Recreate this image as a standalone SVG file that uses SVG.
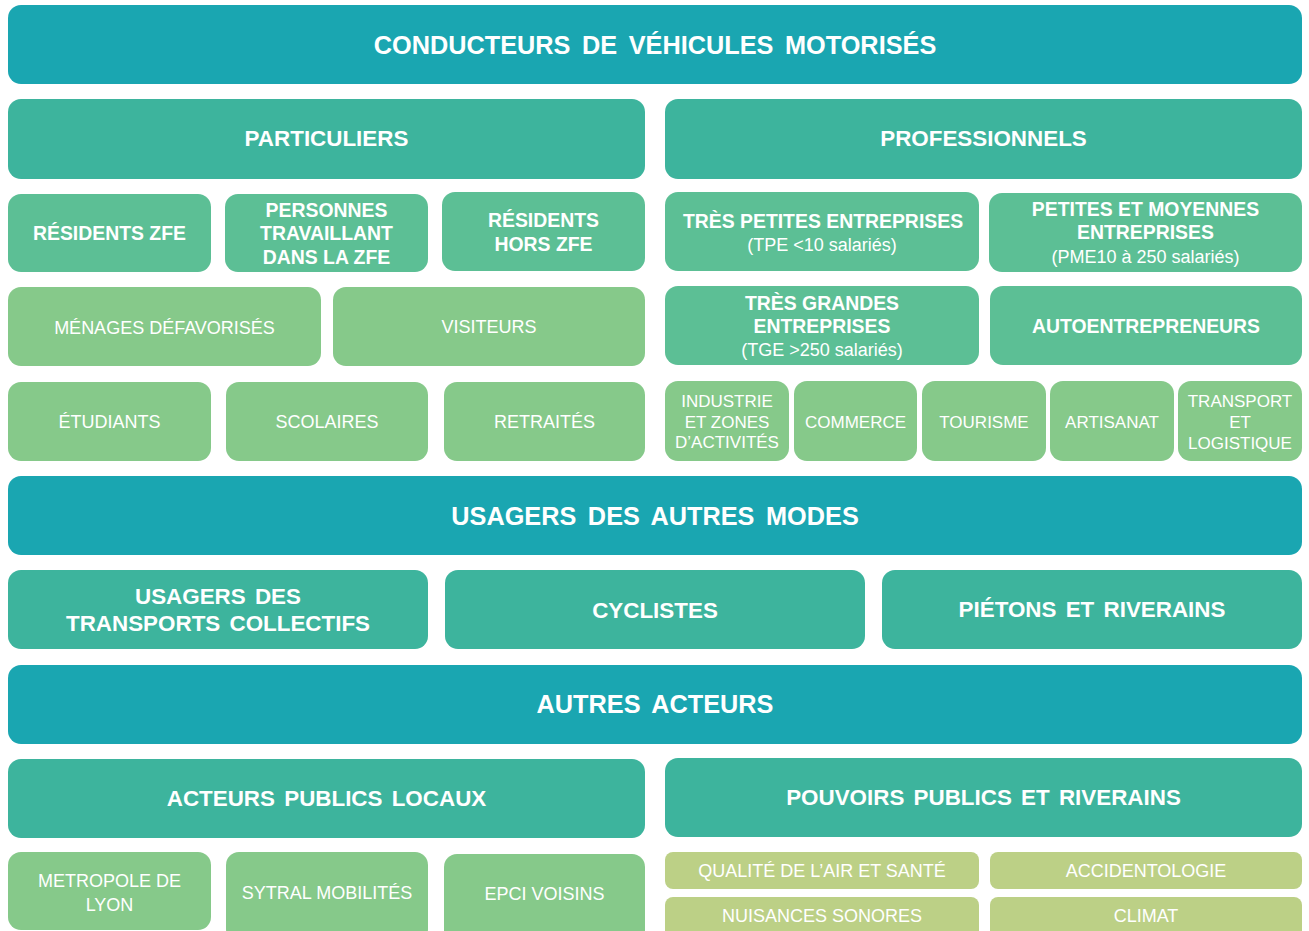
<svg xmlns="http://www.w3.org/2000/svg" width="1309" height="931" viewBox="0 0 1309 931">
<style>
rect{rx:13px;ry:13px}
.c1{fill:#1AA6B1}.c2{fill:#3DB49D}.c3{fill:#5CBF95}.c4{fill:#86C98A}.c5{fill:#BCD086}
text{font-family:"Liberation Sans",Arial,sans-serif;fill:#fff;text-anchor:middle}
.h1{font-size:25.3px;font-weight:bold;word-spacing:4.5px}
.h2{font-size:22.4px;font-weight:bold;word-spacing:3px}
.b{font-size:19.4px;font-weight:bold}
.r{font-size:18px}
.s{font-size:17px}
</style>
<rect width="1309" height="931" fill="#fff" rx="0" ry="0" style="rx:0;ry:0"/>
<g id="conducteurs"><rect class="c1" x="8" y="5" width="1294" height="79"/><text class="h1" x="655" y="54">CONDUCTEURS DE VÉHICULES MOTORISÉS</text></g>
<g id="particuliers"><rect class="c2" x="8" y="99" width="637" height="80"/><text class="h2" x="326.5" y="146">PARTICULIERS</text></g>
<g id="professionnels"><rect class="c2" x="665" y="99" width="637" height="80"/><text class="h2" x="983.5" y="146">PROFESSIONNELS</text></g>

<g id="residents-zfe"><rect class="c3" x="8" y="194" width="203" height="78"/><text class="b" x="109.5" y="239.5">RÉSIDENTS ZFE</text></g>
<g id="personnes"><rect class="c3" x="225" y="194" width="203" height="78"/><text class="b" x="326.5" y="216.5">PERSONNES</text><text class="b" x="326.5" y="240">TRAVAILLANT</text><text class="b" x="326.5" y="263.5">DANS LA ZFE</text></g>
<g id="residents-hors"><rect class="c3" x="442" y="192" width="203" height="79"/><text class="b" x="543.5" y="226.5">RÉSIDENTS</text><text class="b" x="543.5" y="250.5">HORS ZFE</text></g>
<g id="tpe"><rect class="c3" x="665" y="192" width="314" height="79"/><text class="b" x="823" y="227.5">TRÈS PETITES ENTREPRISES</text><text class="r" x="822" y="250.5">(TPE &lt;10 salariés)</text></g>
<g id="pme"><rect class="c3" x="989" y="193" width="313" height="79"/><text class="b" x="1145.5" y="215.5">PETITES ET MOYENNES</text><text class="b" x="1145.5" y="238.5">ENTREPRISES</text><text class="r" x="1145.5" y="262.5">(PME10 à 250 salariés)</text></g>

<g id="menages"><rect class="c4" x="8" y="287" width="313" height="79"/><text class="r" x="164.5" y="333.5">MÉNAGES DÉFAVORISÉS</text></g>
<g id="visiteurs"><rect class="c4" x="333" y="287" width="312" height="79"/><text class="r" x="489" y="332.5">VISITEURS</text></g>
<g id="tge"><rect class="c3" x="665" y="286" width="314" height="79"/><text class="b" x="822" y="309.5">TRÈS GRANDES</text><text class="b" x="822" y="332.5">ENTREPRISES</text><text class="r" x="822" y="355.5">(TGE &gt;250 salariés)</text></g>
<g id="auto"><rect class="c3" x="990" y="286" width="312" height="79"/><text class="b" x="1146" y="332.5">AUTOENTREPRENEURS</text></g>

<g id="etudiants"><rect class="c4" x="8" y="382" width="203" height="79"/><text class="r" x="109.5" y="427.5">ÉTUDIANTS</text></g>
<g id="scolaires"><rect class="c4" x="226" y="382" width="202" height="79"/><text class="r" x="327" y="427.5">SCOLAIRES</text></g>
<g id="retraites"><rect class="c4" x="444" y="382" width="201" height="79"/><text class="r" x="544.5" y="427.5">RETRAITÉS</text></g>
<g id="industrie"><rect class="c4" x="665" y="381" width="124" height="80"/><text class="s" x="727" y="407">INDUSTRIE</text><text class="s" x="727" y="428">ET ZONES</text><text class="s" x="727" y="448">D’ACTIVITÉS</text></g>
<g id="commerce"><rect class="c4" x="794" y="381" width="123" height="80"/><text class="s" x="855.5" y="427.5">COMMERCE</text></g>
<g id="tourisme"><rect class="c4" x="922" y="381" width="124" height="80"/><text class="s" x="984" y="427.5">TOURISME</text></g>
<g id="artisanat"><rect class="c4" x="1050" y="381" width="124" height="80"/><text class="s" x="1112" y="427.5">ARTISANAT</text></g>
<g id="transport"><rect class="c4" x="1178" y="381" width="124" height="80"/><text class="s" x="1240" y="407">TRANSPORT</text><text class="s" x="1240" y="428">ET</text><text class="s" x="1240" y="449">LOGISTIQUE</text></g>

<g id="usagers"><rect class="c1" x="8" y="476" width="1294" height="79"/><text class="h1" x="655" y="525">USAGERS DES AUTRES MODES</text></g>
<g id="tc"><rect class="c2" x="8" y="570" width="420" height="79"/><text class="h2" x="218" y="604">USAGERS DES</text><text class="h2" x="218" y="631">TRANSPORTS COLLECTIFS</text></g>
<g id="cyclistes"><rect class="c2" x="445" y="570" width="420" height="79"/><text class="h2" x="655" y="618">CYCLISTES</text></g>
<g id="pietons"><rect class="c2" x="882" y="570" width="420" height="79"/><text class="h2" x="1092" y="617">PIÉTONS ET RIVERAINS</text></g>

<g id="autres"><rect class="c1" x="8" y="665" width="1294" height="79"/><text class="h1" x="655" y="713">AUTRES ACTEURS</text></g>
<g id="acteurs-publics"><rect class="c2" x="8" y="759" width="637" height="79"/><text class="h2" x="326.5" y="806">ACTEURS PUBLICS LOCAUX</text></g>
<g id="pouvoirs"><rect class="c2" x="665" y="758" width="637" height="79"/><text class="h2" x="983.5" y="805">POUVOIRS PUBLICS ET RIVERAINS</text></g>

<g id="metropole"><rect class="c4" x="8" y="852" width="203" height="78"/><text class="r" x="109.5" y="886.5">METROPOLE DE</text><text class="r" x="109.5" y="910.5">LYON</text></g>
<g id="sytral"><rect class="c4" x="226" y="852" width="202" height="90"/><text class="r" x="327" y="898.5">SYTRAL MOBILITÉS</text></g>
<g id="epci"><rect class="c4" x="444" y="854" width="201" height="90"/><text class="r" x="544.5" y="899.5">EPCI VOISINS</text></g>
<g id="qualite"><rect class="c5" x="665" y="852" width="314" height="37" style="rx:8px;ry:8px"/><text class="r" x="822" y="876.5">QUALITÉ DE L’AIR ET SANTÉ</text></g>
<g id="accidentologie"><rect class="c5" x="990" y="852" width="312" height="37" style="rx:8px;ry:8px"/><text class="r" x="1146" y="876.5">ACCIDENTOLOGIE</text></g>
<g id="nuisances"><rect class="c5" x="665" y="897" width="314" height="45" style="rx:8px;ry:8px"/><text class="r" x="822" y="921.5">NUISANCES SONORES</text></g>
<g id="climat"><rect class="c5" x="990" y="897" width="312" height="45" style="rx:8px;ry:8px"/><text class="r" x="1146" y="921.5">CLIMAT</text></g>
<g id="connectors"/>
</svg>
